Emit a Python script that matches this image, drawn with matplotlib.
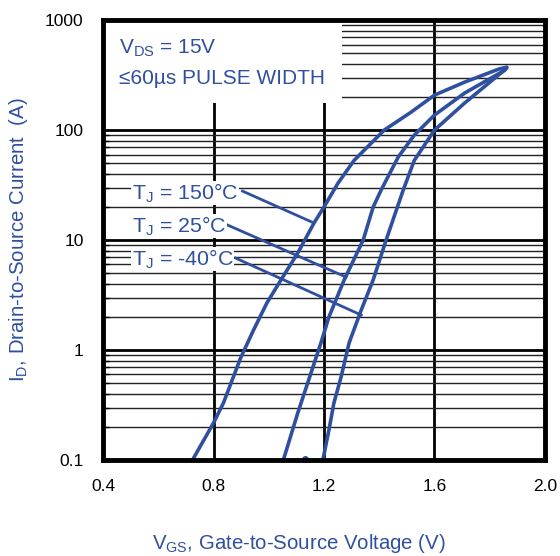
import matplotlib
matplotlib.use("Agg")
import matplotlib.pyplot as plt
from matplotlib.patches import Rectangle
import numpy as np

plt.rcParams['font.family'] = ['Liberation Sans', 'DejaVu Sans']
plt.rcParams['mathtext.fontset'] = 'custom'
plt.rcParams['mathtext.rm'] = 'Liberation Sans'
plt.rcParams['mathtext.it'] = 'Liberation Sans'

blue = '#2f4f9f'

# Tj = 150 C
v150 = [0.724, 0.80, 0.836, 0.898, 0.945, 0.993, 1.044, 1.105, 1.164, 1.20, 1.251, 1.309,
        1.418, 1.516, 1.60, 1.709, 1.833, 1.862]
i150 = [0.1, 0.217, 0.33, 0.845, 1.52, 2.67, 4.33, 7.62, 14.3, 20, 33, 53,
        100, 146, 208, 273, 359, 374]
# Tj = 25 C
v25 = [1.053, 1.105, 1.153, 1.189, 1.218, 1.273, 1.342, 1.378, 1.407, 1.469, 1.527, 1.60,
       1.709, 1.855]
i25 = [0.1, 0.267, 0.618, 1.16, 2.0, 4.33, 10, 19.9, 28.5, 57, 90, 137,
       217, 351]
# Tj = -40 C
vm40 = [1.196, 1.218, 1.236, 1.262, 1.291, 1.335, 1.378, 1.425, 1.487, 1.527, 1.60, 1.709, 1.862]
im40 = [0.1, 0.187, 0.33, 0.569, 1.16, 2.31, 4.33, 10, 28.5, 53, 100, 176, 366]

# curve labels and their leader lines (from text to curve)
lab_text = ['T$_J$ = 150°C', 'T$_J$ = 25°C', 'T$_J$ = -40°C']
lab_pos = [(0.505, 26.7), (0.505, 13.4), (0.505, 6.7)]
lead_v = [(0.905, 1.164), (0.851, 1.28), (0.88, 1.335)]
lead_i = [(27.9, 14.3), (13.7, 4.61), (6.86, 2.08)]

xticks = [0.4, 0.8, 1.2, 1.6, 2.0]
yticks = [0.1, 1, 10, 100, 1000]
ylabels = ['0.1', '1', '10', '100', '1000']

fig = plt.figure(figsize=(5.6, 5.56), dpi=100)
ax = fig.add_axes([0.184, 0.1727, 0.789, 0.791])
ax.set_yscale('log')
ax.set_xlim(0.4, 2.0)
ax.set_ylim(0.1, 1000)

ax.set_xticks(xticks)
ax.set_xticklabels(['%.1f' % x for x in xticks])
ax.set_yticks(yticks)
ax.set_yticklabels(ylabels)
ax.yaxis.set_minor_locator(matplotlib.ticker.LogLocator(base=10, subs=np.arange(2, 10)))
ax.yaxis.set_minor_formatter(matplotlib.ticker.NullFormatter())
ax.tick_params(axis='both', which='major', direction='in', length=0, labelsize=12.5, pad=14)
ax.tick_params(axis='y', which='minor', direction='in', length=4, width=1)
ax.tick_params(axis='x', which='minor', length=0)

ax.set_axisbelow(True)
ax.grid(True, which='major', axis='both', color='black', linewidth=2)
ax.grid(True, which='minor', axis='y', color='#222222', linewidth=1)
for s in ax.spines.values():
    s.set_linewidth(3.5)

# white box behind the header text
ax.add_patch(Rectangle((0, 0.811), 0.541, 0.2, transform=ax.transAxes,
                       facecolor='white', edgecolor='none', zorder=1))
ax.text(0.036, 0.936, 'V$_{DS}$ = 15V', transform=ax.transAxes, color=blue,
        fontsize=15, va='center', zorder=3)
ax.text(0.036, 0.868, '≤60µs PULSE WIDTH', transform=ax.transAxes, color=blue,
        fontsize=15, va='center', zorder=3)

for v, i in [(v150, i150), (v25, i25), (vm40, im40)]:
    ax.plot(v, i, color=blue, linewidth=2.6, zorder=2, solid_capstyle='round',
            solid_joinstyle='round')
ax.plot([1.132], [0.102], 'o', color=blue, markersize=4, zorder=2, clip_on=False)

for t, p, lv, li in zip(lab_text, lab_pos, lead_v, lead_i):
    ax.plot(lv, li, color=blue, linewidth=2, zorder=2)
    ax.text(p[0], p[1], t, color=blue, fontsize=15.4, va='center', ha='left', zorder=3,
            bbox=dict(facecolor='white', edgecolor='none', pad=0.5))

ax.set_xlabel('V$_{GS}$, Gate-to-Source Voltage (V)', color=blue, fontsize=14.7)
ax.xaxis.set_label_coords(0.443, -0.189)
ax.xaxis.label.set_va('center')
ax.set_ylabel('I$_D$, Drain-to-Source Current  (A)', color=blue, fontsize=14.7)
ax.yaxis.set_label_coords(-0.192, 0.5)
ax.yaxis.label.set_va('center')

fig.savefig('out.png', dpi=100)
